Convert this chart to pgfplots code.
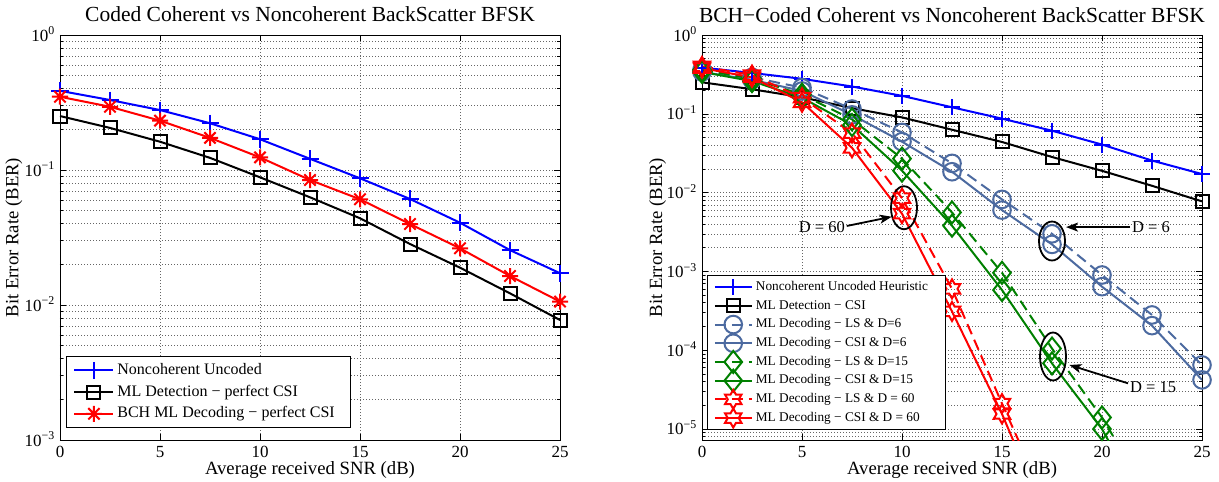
\documentclass[border=0pt]{standalone}
\usepackage{fontspec}
\setmainfont{Liberation Serif}
\usepackage{pgfplots}
\pgfplotsset{compat=1.18}
\usetikzlibrary{arrows.meta}

\definecolor{slate}{RGB}{76,106,160}
\definecolor{mgreen}{RGB}{0,128,0}
\newcommand{\fsz}[1]{\fontsize{#1}{#1}\selectfont}

\pgfdeclareplotmark{ast8}{%
  \pgfpathmoveto{\pgfqpoint{-\pgfplotmarksize}{0pt}}\pgfpathlineto{\pgfqpoint{\pgfplotmarksize}{0pt}}%
  \pgfpathmoveto{\pgfqpoint{0pt}{-\pgfplotmarksize}}\pgfpathlineto{\pgfqpoint{0pt}{\pgfplotmarksize}}%
  \pgfpathmoveto{\pgfqpoint{-0.707\pgfplotmarksize}{-0.707\pgfplotmarksize}}\pgfpathlineto{\pgfqpoint{0.707\pgfplotmarksize}{0.707\pgfplotmarksize}}%
  \pgfpathmoveto{\pgfqpoint{-0.707\pgfplotmarksize}{0.707\pgfplotmarksize}}\pgfpathlineto{\pgfqpoint{0.707\pgfplotmarksize}{-0.707\pgfplotmarksize}}%
  \pgfusepathqstroke}
\pgfdeclareplotmark{mdiamond}{%
  \pgfpathmoveto{\pgfqpoint{0pt}{\pgfplotmarksize}}%
  \pgfpathlineto{\pgfqpoint{0.8\pgfplotmarksize}{0pt}}%
  \pgfpathlineto{\pgfqpoint{0pt}{-\pgfplotmarksize}}%
  \pgfpathlineto{\pgfqpoint{-0.8\pgfplotmarksize}{0pt}}%
  \pgfpathclose\pgfusepathqstroke}
\pgfdeclareplotmark{hexagram}{%
  \pgfpathmoveto{\pgfpointpolar{90}{\pgfplotmarksize}}%
  \pgfpathlineto{\pgfpointpolar{120}{0.577\pgfplotmarksize}}%
  \pgfpathlineto{\pgfpointpolar{150}{\pgfplotmarksize}}%
  \pgfpathlineto{\pgfpointpolar{180}{0.577\pgfplotmarksize}}%
  \pgfpathlineto{\pgfpointpolar{210}{\pgfplotmarksize}}%
  \pgfpathlineto{\pgfpointpolar{240}{0.577\pgfplotmarksize}}%
  \pgfpathlineto{\pgfpointpolar{270}{\pgfplotmarksize}}%
  \pgfpathlineto{\pgfpointpolar{300}{0.577\pgfplotmarksize}}%
  \pgfpathlineto{\pgfpointpolar{330}{\pgfplotmarksize}}%
  \pgfpathlineto{\pgfpointpolar{0}{0.577\pgfplotmarksize}}%
  \pgfpathlineto{\pgfpointpolar{30}{\pgfplotmarksize}}%
  \pgfpathlineto{\pgfpointpolar{60}{0.577\pgfplotmarksize}}%
  \pgfpathclose\pgfusepathqstroke}

\begin{document}
\begin{tikzpicture}
% ---------------- left panel ----------------
\begin{axis}[at={(60pt,42pt)}, anchor=south west,
  scale only axis, width=500pt, height=405pt,
  xmin=0, xmax=25, ymode=log, ymin=1e-3, ymax=1,
  xtick={0,5,10,15,20,25}, xticklabels={0,5,10,15,20,25},
  ytick={1e-3,1e-2,1e-1,1},
  yticklabels={10\textsuperscript{−3},10\textsuperscript{−2},10\textsuperscript{−1},10\textsuperscript{0}},
  minor ytick={2e-3,3e-3,4e-3,5e-3,6e-3,7e-3,8e-3,9e-3,2e-2,3e-2,4e-2,5e-2,6e-2,7e-2,8e-2,9e-2,0.2,0.3,0.4,0.5,0.6,0.7,0.8,0.9},
  tick align=inside, major tick length=6pt, minor tick length=3pt,
  every tick/.style={black, line width=0.6pt},
  axis line style={black, line width=0.9pt},
  grid=both,
  major grid style={black!60, line width=0.6pt, dash pattern=on 1pt off 2pt},
  minor grid style={black!60, line width=0.6pt, dash pattern=on 1pt off 2pt},
  xticklabel style={font=\fsz{17}, anchor=base, yshift=-17pt},
  yticklabel style={font=\fsz{17}, anchor=base east, inner sep=0pt, xshift=-5pt, yshift=-6pt},
  xlabel={Average received SNR (dB)},
  ylabel={Bit Error Rate (BER)},
  xlabel style={font=\fsz{18.7}, at={(axis description cs:0.5,0)}, anchor=base, yshift=-34pt},
  ylabel style={font=\fsz{18.7}, at={(axis description cs:-0.092,0.5)}, anchor=center},
  title style={font=\fsz{21.5}, at={(axis description cs:0.5,1)}, anchor=base, yshift=7pt},
  title={Coded Coherent vs Noncoherent BackScatter BFSK},
  legend cell align=left,
  legend image code/.code={%
    \draw[#1, mark=none] (0pt,0pt) -- (39pt,0pt);
    \draw[#1, overlay] plot coordinates {(19.5pt,0pt)};},
  legend style={at={(axis description cs:0.012,0.2074)}, anchor=north west, font=\fsz{16},
    draw=black, line width=0.8pt, fill=white, inner xsep=7pt, inner ysep=6pt, row sep=5.7pt,
    nodes={inner xsep=3pt, inner ysep=0pt, text height=12pt, text depth=4pt}},
]
\addplot[blue, line width=2pt, mark=+, mark size=8.5pt] coordinates {
 (0,0.386) (2.5,0.330) (5,0.278) (7.5,0.222) (10,0.169) (12.5,0.121) (15,0.0868) (17.5,0.0610) (20,0.0407) (22.5,0.0255) (25,0.0172)};
\addlegendentry{Noncoherent Uncoded}
\addplot[black, line width=2pt, mark=square, mark size=6.5pt] coordinates {
 (0,0.251) (2.5,0.205) (5,0.162) (7.5,0.123) (10,0.0883) (12.5,0.0628) (15,0.0439) (17.5,0.0283) (20,0.0189) (22.5,0.0122) (25,0.00774)};
\addlegendentry{ML Detection − perfect CSI}
\addplot[red, line width=2pt, mark=ast8, mark size=8pt] coordinates {
 (0,0.349) (2.5,0.294) (5,0.232) (7.5,0.173) (10,0.124) (12.5,0.0843) (15,0.0607) (17.5,0.0398) (20,0.0263) (22.5,0.0164) (25,0.0106)};
\addlegendentry{BCH ML Decoding − perfect CSI\rule{6pt}{0pt}}
\end{axis}

% ---------------- right panel ----------------
\begin{axis}[at={(702pt,42pt)}, anchor=south west,
  scale only axis, width=500pt, height=405pt,
  xmin=0, xmax=25, ymode=log, ymin=7.25e-6, ymax=1,
  xtick={0,5,10,15,20,25}, xticklabels={0,5,10,15,20,25},
  ytick={1e-5,1e-4,1e-3,1e-2,1e-1,1},
  yticklabels={10\textsuperscript{−5},10\textsuperscript{−4},10\textsuperscript{−3},10\textsuperscript{−2},10\textsuperscript{−1},10\textsuperscript{0}},
  minor ytick={8e-6,9e-6,2e-5,3e-5,4e-5,5e-5,6e-5,7e-5,8e-5,9e-5,2e-4,3e-4,4e-4,5e-4,6e-4,7e-4,8e-4,9e-4,2e-3,3e-3,4e-3,5e-3,6e-3,7e-3,8e-3,9e-3,2e-2,3e-2,4e-2,5e-2,6e-2,7e-2,8e-2,9e-2,0.2,0.3,0.4,0.5,0.6,0.7,0.8,0.9},
  tick align=inside, major tick length=6pt, minor tick length=3pt,
  every tick/.style={black, line width=0.6pt},
  axis line style={black, line width=0.9pt},
  grid=both,
  major grid style={black!60, line width=0.6pt, dash pattern=on 1pt off 2pt},
  minor grid style={black!60, line width=0.6pt, dash pattern=on 1pt off 2pt},
  xticklabel style={font=\fsz{17}, anchor=base, yshift=-17pt},
  yticklabel style={font=\fsz{17}, anchor=base east, inner sep=0pt, xshift=-5pt, yshift=-6pt},
  xlabel={Average received SNR (dB)},
  ylabel={Bit Error Rate (BER)},
  xlabel style={font=\fsz{18.7}, at={(axis description cs:0.5,0)}, anchor=base, yshift=-34pt},
  ylabel style={font=\fsz{18.7}, at={(axis description cs:-0.089,0.5)}, anchor=center},
  title style={font=\fsz{21.5}, at={(axis description cs:0.5,1)}, anchor=base, yshift=7pt},
  title={BCH−Coded Coherent vs Noncoherent BackScatter BFSK},
  legend cell align=left,
  legend image code/.code={%
    \draw[#1, mark=none] (0pt,0pt) -- (36.7pt,0pt);
    \draw[#1, overlay] plot coordinates {(18.35pt,0pt)};},
  legend style={at={(axis description cs:0.01,0.4074)}, anchor=north west, font=\fsz{13.3},
    draw=black, line width=0.8pt, fill=white, inner xsep=6.5pt, inner ysep=5pt, row sep=5.2pt,
    nodes={inner xsep=3.3pt, inner ysep=0pt, text height=10pt, text depth=3.5pt}},
]
\addplot[blue, line width=2pt, mark=+, mark size=8pt] coordinates {
 (0,0.386) (2.5,0.330) (5,0.278) (7.5,0.222) (10,0.169) (12.5,0.121) (15,0.0868) (17.5,0.0610) (20,0.0407) (22.5,0.0255) (25,0.0172)};
\addlegendentry{Noncoherent Uncoded Heuristic\rule{8pt}{0pt}}
\addplot[black, line width=2pt, mark=square, mark size=6.5pt] coordinates {
 (0,0.251) (2.5,0.205) (5,0.162) (7.5,0.118) (10,0.090) (12.5,0.0628) (15,0.0439) (17.5,0.0283) (20,0.0189) (22.5,0.0122) (25,0.00774)};
\addlegendentry{ML Detection − CSI}
\addplot[slate, line width=2pt, dash pattern=on 11pt off 6pt, mark=o, mark size=8.8pt, mark options={solid}] coordinates {
 (0,0.36) (2.5,0.29) (5,0.215) (7.5,0.115) (10,0.058) (12.5,0.0235) (15,0.0082) (17.5,0.0030) (20,9.0e-4) (22.5,2.8e-4) (25,6.5e-5)};
\addlegendentry{ML Decoding − LS \& D=6}
\addplot[slate, line width=2pt, mark=o, mark size=8.8pt] coordinates {
 (0,0.34) (2.5,0.27) (5,0.195) (7.5,0.097) (10,0.0443) (12.5,0.0184) (15,0.0060) (17.5,0.0022) (20,6.4e-4) (22.5,2.05e-4) (25,4.2e-5)};
\addlegendentry{ML Decoding − CSI \& D=6}
\addplot[mgreen, line width=2pt, dash pattern=on 11pt off 6pt, mark=mdiamond, mark size=11pt, mark options={solid}] coordinates {
 (0,0.36) (2.5,0.28) (5,0.175) (7.5,0.085) (10,0.027) (12.5,0.0056) (15,9.6e-4) (17.5,1.05e-4) (20,1.4e-5) (22.5,1.2e-6)};
\addlegendentry{ML Decoding − LS \& D=15}
\addplot[mgreen, line width=2pt, mark=mdiamond, mark size=11pt] coordinates {
 (0,0.34) (2.5,0.26) (5,0.16) (7.5,0.072) (10,0.019) (12.5,0.0038) (15,5.8e-4) (17.5,6.8e-5) (20,1.0e-5) (22.5,7e-7)};
\addlegendentry{ML Decoding − CSI \& D=15}
\addplot[red, line width=2pt, dash pattern=on 11pt off 6pt, mark=hexagram, mark size=9.5pt, mark options={solid}] coordinates {
 (0,0.40) (2.5,0.31) (5,0.16) (7.5,0.057) (10,0.0085) (12.5,6.0e-4) (15,2.1e-5) (17.5,8e-7)};
\addlegendentry{ML Decoding − LS \& D = 60}
\addplot[red, line width=2pt, mark=hexagram, mark size=9.5pt] coordinates {
 (0,0.38) (2.5,0.29) (5,0.14) (7.5,0.037) (10,0.0054) (12.5,3.1e-4) (15,1.55e-5) (17.5,5e-7)};
\addlegendentry{ML Decoding − CSI \& D = 60}

% annotations
\draw[line width=1.8pt] (axis cs:10.1,6.43e-3) ellipse [x radius=13pt, y radius=21.5pt];
\draw[line width=1.8pt, -{Stealth[length=12pt,width=9pt,inset=3pt]}] (axis cs:7.235,3.77e-3) -- (axis cs:9.485,4.94e-3);
\node[font=\fsz{16.5}, anchor=east, inner sep=1pt] at (axis cs:7.2,3.66e-3) {D = 60};

\draw[line width=1.8pt] (axis cs:17.5,2.43e-3) ellipse [x radius=13pt, y radius=19.5pt];
\draw[line width=1.8pt, -{Stealth[length=12pt,width=9pt,inset=3pt]}] (axis cs:21.4,3.65e-3) -- (axis cs:18.2,3.65e-3);
\node[font=\fsz{16.5}, anchor=west, inner sep=1pt] at (axis cs:21.45,3.65e-3) {D = 6};

\draw[line width=1.8pt] (axis cs:17.55,8.32e-5) ellipse [x radius=13pt, y radius=24pt];
\draw[line width=1.8pt, -{Stealth[length=12pt,width=9pt,inset=3pt]}] (axis cs:21.3,3.8e-5) -- (axis cs:18.37,6.49e-5);
\node[font=\fsz{16.5}, anchor=west, inner sep=1pt] at (axis cs:21.35,3.36e-5) {D = 15};
\end{axis}

\pgfresetboundingbox
\path[use as bounding box] (0,0) rectangle (1219pt,482pt);
\end{tikzpicture}
\end{document}
